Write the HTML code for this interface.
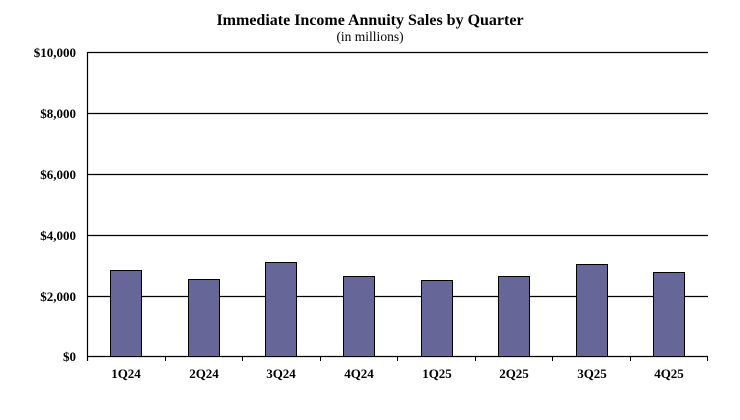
<!DOCTYPE html>
<html><head><style>body{margin:0;background:#fff}</style></head><body>
<svg width="740" height="415" xmlns="http://www.w3.org/2000/svg" font-family="Liberation Serif, serif">
<rect width="740" height="415" fill="#fff"/>
<text x="370" y="25" text-anchor="middle" font-size="16" font-weight="bold">Immediate Income Annuity Sales by Quarter</text>
<text x="370" y="41" text-anchor="middle" font-size="13.5">(in millions)</text>
<g stroke="#000" stroke-width="1.2">
<line x1="87" y1="52.5" x2="708" y2="52.5"/>
<line x1="87" y1="113.5" x2="708" y2="113.5"/>
<line x1="87" y1="174.5" x2="708" y2="174.5"/>
<line x1="87" y1="235.5" x2="708" y2="235.5"/>
<line x1="87" y1="296.5" x2="708" y2="296.5"/>
<line x1="87" y1="356.5" x2="708" y2="356.5"/>
<line x1="87.5" y1="52" x2="87.5" y2="361"/>
</g>
<g stroke="#000" stroke-width="1">
<line x1="165.5" y1="356" x2="165.5" y2="361"/><line x1="242.5" y1="356" x2="242.5" y2="361"/>
<line x1="320.5" y1="356" x2="320.5" y2="361"/><line x1="397.5" y1="356" x2="397.5" y2="361"/>
<line x1="475.5" y1="356" x2="475.5" y2="361"/><line x1="552.5" y1="356" x2="552.5" y2="361"/>
<line x1="630.5" y1="356" x2="630.5" y2="361"/><line x1="707.5" y1="356" x2="707.5" y2="361"/>
</g>
<g fill="#666699" stroke="#000" stroke-width="1">
<rect x="110.5" y="270.5" width="31" height="86"/>
<rect x="188.5" y="279.5" width="31" height="77"/>
<rect x="265.5" y="262.5" width="31" height="94"/>
<rect x="343.5" y="276.5" width="31" height="80"/>
<rect x="421.5" y="280.5" width="31" height="76"/>
<rect x="498.5" y="276.5" width="31" height="80"/>
<rect x="576.5" y="264.5" width="31" height="92"/>
<rect x="653.5" y="272.5" width="31" height="84"/>
</g>
<g font-size="13" font-weight="bold" text-anchor="end">
<text x="76" y="57">$10,000</text><text x="76" y="118">$8,000</text>
<text x="76" y="179">$6,000</text><text x="76" y="240">$4,000</text>
<text x="76" y="301">$2,000</text><text x="76" y="361">$0</text>
</g>
<g font-size="13" font-weight="bold" text-anchor="middle">
<text x="126" y="378">1Q24</text><text x="204" y="378">2Q24</text>
<text x="281" y="378">3Q24</text><text x="359" y="378">4Q24</text>
<text x="437" y="378">1Q25</text><text x="514" y="378">2Q25</text>
<text x="592" y="378">3Q25</text><text x="669" y="378">4Q25</text>
</g>
</svg>
</body></html>
